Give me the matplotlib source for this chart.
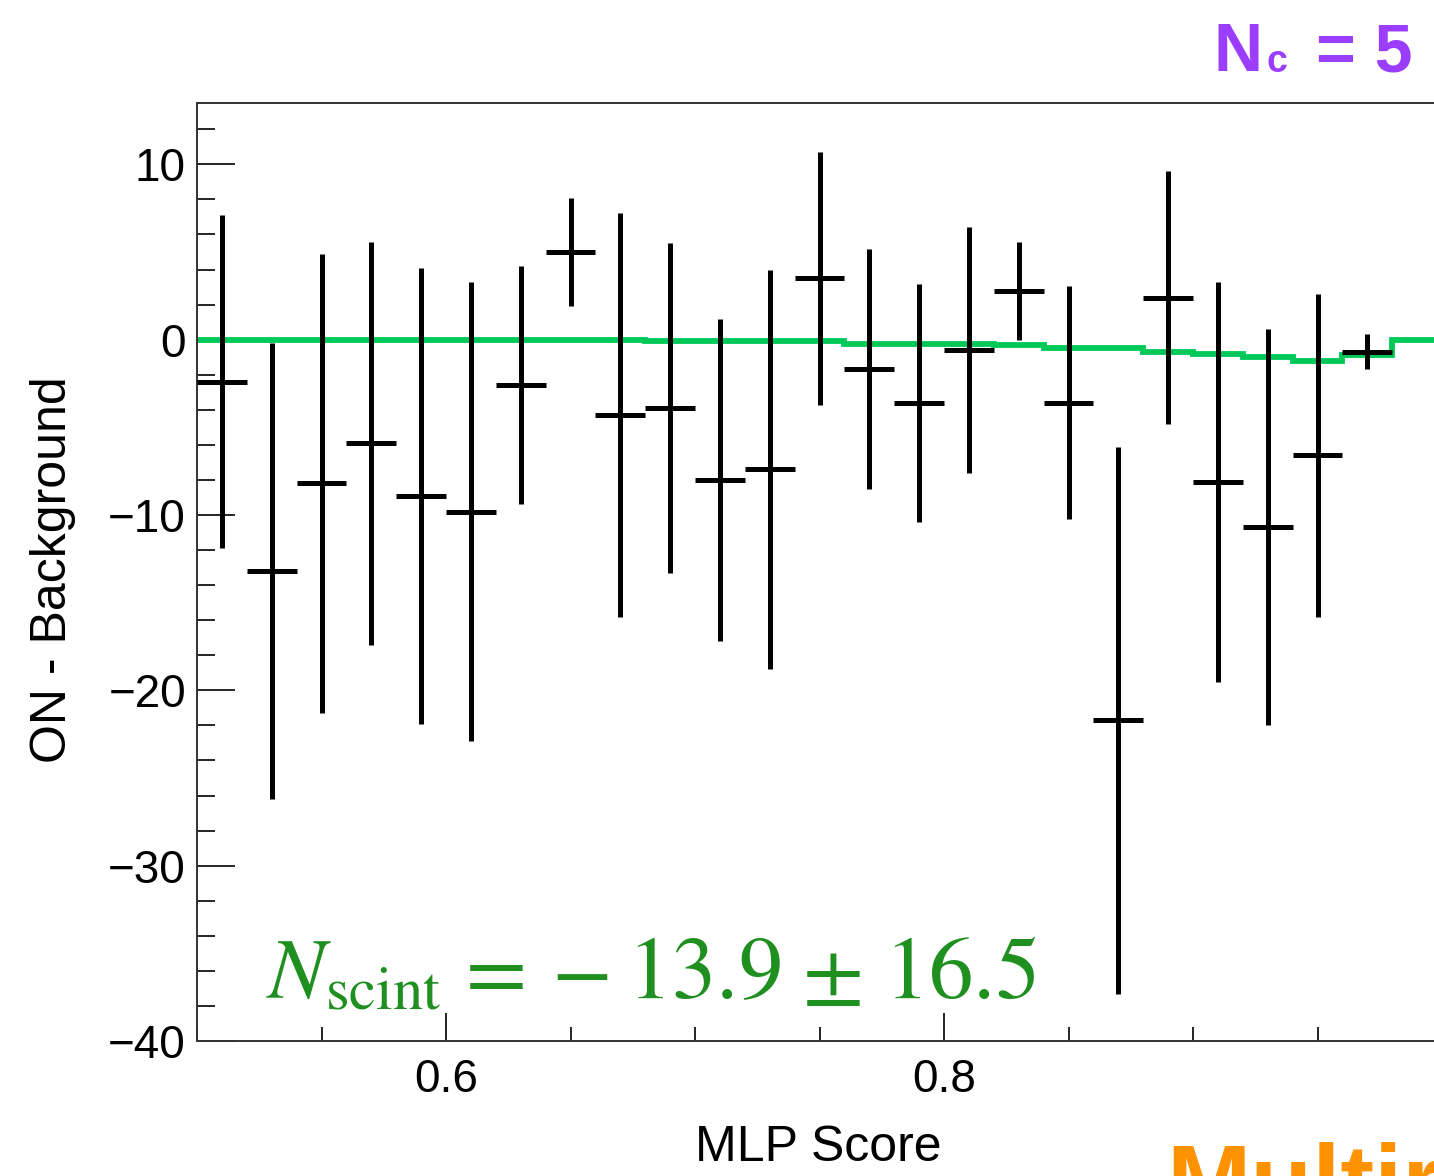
import numpy as np
import matplotlib
matplotlib.use("Agg")
import matplotlib.pyplot as plt
from matplotlib.ticker import MultipleLocator, FixedLocator

plt.rcParams['font.family'] = ['Liberation Sans', 'DejaVu Sans']

# MLP score binning (25 bins of width 0.02)
bin_edges = np.linspace(0.5, 1.0, 26)
bin_centers = 0.5 * (bin_edges[:-1] + bin_edges[1:])

# ON - Background per bin (last bin empty)
on_minus_bkg = [-2.4, -13.2, -8.2, -5.9, -8.9, -9.8, -2.6, 5.0, -4.3, -3.9,
                -8.0, -7.4, 3.5, -1.65, -3.6, -0.6, 2.8, -3.6, -21.7, 2.4,
                -8.1, -10.7, -6.6, -0.7]
on_minus_bkg_err = [9.5, 13.0, 13.1, 11.5, 13.0, 13.1, 6.8, 3.1, 11.5, 9.4,
                    9.2, 11.4, 7.2, 6.85, 6.8, 7.0, 2.8, 6.65, 15.6, 7.2,
                    11.4, 11.3, 9.2, 1.0]

# Fitted scintillation template
scint_template = [0, 0, 0, 0, 0, 0, 0, 0, 0, -0.1,
                  -0.1, -0.1, -0.1, -0.25, -0.25, -0.25, -0.32, -0.45, -0.5, -0.68,
                  -0.8, -0.97, -1.2, -0.85, 0]

W, H = 1434, 1176
fig = plt.figure(figsize=(W / 100, H / 100), dpi=100)
ax = fig.add_axes([197 / W, 1 - 1041 / H, 1245 / W, 938 / H])

ax.stairs(scint_template, bin_edges, color='#00c95a', lw=4.2, zorder=2,
          baseline=None)

n = len(on_minus_bkg)
ax.errorbar(bin_centers[:n], on_minus_bkg, yerr=on_minus_bkg_err, xerr=0.01,
            fmt='none', ecolor='black', elinewidth=3.6, capsize=0, zorder=3)

ax.set_xlim(0.5, 1.0)
ax.set_ylim(-40, 13.5)

ax.xaxis.set_major_locator(FixedLocator([0.6, 0.8]))
ax.xaxis.set_minor_locator(MultipleLocator(0.05))
ax.yaxis.set_major_locator(MultipleLocator(10))
ax.yaxis.set_minor_locator(MultipleLocator(2))
ax.xaxis.set_major_formatter(plt.FuncFormatter(lambda v, p: f"{v:.1f}"))

ax.tick_params(axis='x', which='major', direction='in', length=20, width=1.2,
               labelsize=33, pad=12, top=False)
ax.tick_params(axis='x', which='minor', direction='in', length=10, width=1.2,
               top=False)
ax.tick_params(axis='y', which='major', direction='in', length=27, width=1.2,
               labelsize=33, pad=8, right=False)
ax.tick_params(axis='y', which='minor', direction='in', length=13, width=1.2,
               right=False)

for side in ('left', 'bottom', 'top', 'right'):
    ax.spines[side].set_linewidth(1.4)
    ax.spines[side].set_color('#333333')

fig.text(818 / W, 1 - 1148 / H, 'MLP Score', fontsize=36, ha='center',
         va='center')
fig.text(53 / W, 1 - 570 / H, 'ON - Background', fontsize=36, ha='center',
         va='center', rotation=90)

# Fitted number of scintillation events
green = '#1f8f1f'
base_y = 1 - 998 / H
fig.text(266 / W, base_y, r'$N_{\mathrm{scint}}$', fontsize=62, color=green,
         ha='left', va='baseline', math_fontfamily='stix')
for xpix, piece in [(453, r'$=$'), (551, r'$-$'), (627, r'$13.9$'),
                    (802, r'$\pm$'), (884, r'$16.5$')]:
    fig.text(xpix / W, base_y, piece, fontsize=64, color=green, ha='left',
             va='baseline', math_fontfamily='stix')

# Category label, top right
fig.text(1213 / W, 1 - 71 / H, 'N', fontsize=49, fontweight='bold',
         color='#9b3dff', ha='left', va='baseline')
fig.text(1266 / W, 1 - 72 / H, 'c', fontsize=27, fontweight='bold',
         color='#9b3dff', ha='left', va='baseline')
fig.text(1413 / W, 1 - 71 / H, '= 5', fontsize=49, fontweight='bold',
         color='#9b3dff', ha='right', va='baseline')

fig.text(1166 / W, 1 - 1215 / H, 'Multiring', fontsize=73, fontweight='bold',
         color='#ff9200', ha='left', va='baseline')

fig.savefig('out.png', dpi=100)
